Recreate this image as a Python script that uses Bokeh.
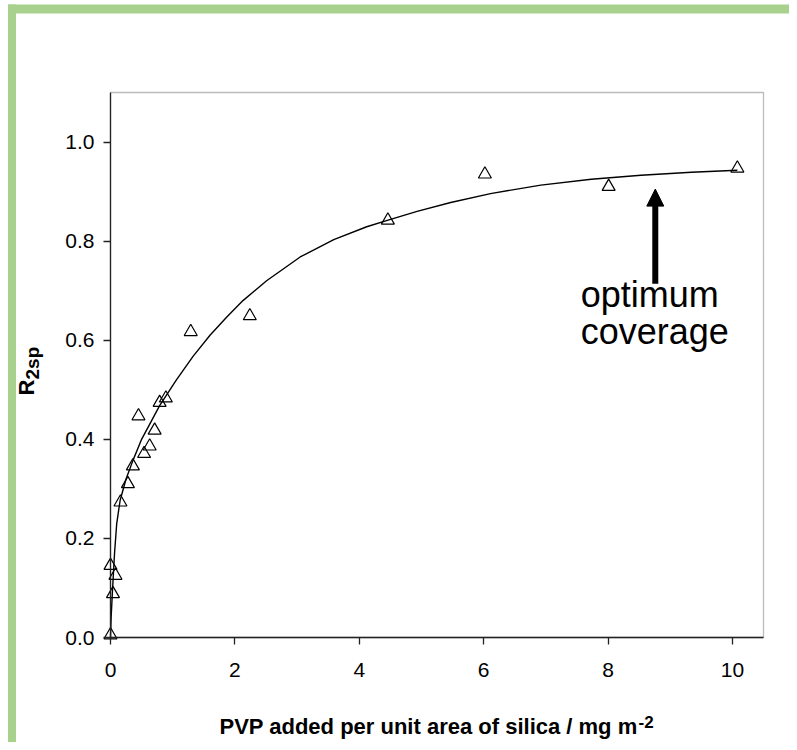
import math
from bokeh.plotting import figure
from bokeh.models import (Range1d, FixedTicker, PrintfTickFormatter, Label,
                          Arrow, NormalHead, BoxAnnotation, LinearAxis)
from bokeh.embed import file_html
from bokeh.resources import INLINE

# ---- data ----
pvp_x = [0.0, 0.04, 0.08, 0.0, 0.16, 0.28, 0.36, 0.45, 0.54, 0.63, 0.71, 0.79,
         0.89, 1.29, 2.24, 4.46, 6.02, 8.01, 10.08]
r2sp_y = [0.005, 0.088, 0.125, 0.145, 0.273, 0.31, 0.346, 0.447, 0.371, 0.386,
          0.418, 0.474, 0.483, 0.617, 0.649, 0.842, 0.935, 0.91, 0.947]

# fitted curve
fit_x = [0.0, 0.01, 0.03, 0.065, 0.10, 0.155, 0.25, 0.36, 0.50, 0.79, 1.06,
         1.33, 1.60, 1.87, 2.13, 2.51, 3.05, 3.59, 4.12, 4.45, 4.93, 5.47,
         6.11, 6.92, 7.73, 8.53, 9.34, 10.08]
fit_y = [0.0, 0.04, 0.09, 0.17, 0.23, 0.277, 0.32, 0.357, 0.400, 0.468, 0.520,
         0.568, 0.610, 0.647, 0.680, 0.720, 0.768, 0.803, 0.829, 0.842, 0.860,
         0.878, 0.896, 0.913, 0.925, 0.933, 0.939, 0.943]

x_ticks = [0, 2, 4, 6, 8, 10]
y_ticks = [0.0, 0.2, 0.4, 0.6, 0.8, 1.0]

# axis extents (data) and where the plot box sits on the canvas (pixels)
X0, X1 = 0.0, 10.5
Y0, Y1 = 0.0, 1.1
W, H = 789, 742
PL, PR, PT, PB = 110, 763, 92, 637


def px_to_x(px):
    return X0 + (px - PL) * (X1 - X0) / (PR - PL)


def py_to_y(py):
    return Y0 + (PB - py) * (Y1 - Y0) / (PB - PT)


FONT = "Liberation Sans"
INK = "#222222"

p = figure(width=W, height=H, output_backend="svg", toolbar_location=None,
           x_range=Range1d(px_to_x(0), px_to_x(W)),
           y_range=Range1d(py_to_y(H), py_to_y(0)),
           x_axis_location=None, y_axis_location=None,
           min_border=0)
p.background_fill_color = "white"
p.border_fill_color = "white"
p.outline_line_color = None
p.xgrid.visible = False
p.ygrid.visible = False

xaxis = LinearAxis(fixed_location=Y0, bounds=(X0, X1),
                   ticker=FixedTicker(ticks=x_ticks))
yaxis = LinearAxis(fixed_location=X0, bounds=(Y0, Y1),
                   ticker=FixedTicker(ticks=y_ticks),
                   formatter=PrintfTickFormatter(format="%.1f"))
for ax in (xaxis, yaxis):
    ax.axis_line_color = INK
    ax.axis_line_width = 1.3
    ax.major_tick_line_color = INK
    ax.major_tick_line_width = 1.3
    ax.major_tick_in = 0
    ax.major_tick_out = 7
    ax.minor_tick_line_color = None
    ax.major_label_text_font = FONT
    ax.major_label_text_font_size = "21px"
    ax.major_label_text_color = "black"
xaxis.major_label_standoff = 18
yaxis.major_label_standoff = 9
p.add_layout(xaxis, "below")
p.add_layout(yaxis, "left")

# green page frame
GREEN = "#A9D18E"
for (l, r, t, b) in [(7.5, 15.5, 4, H + 10), (7.5, W, 4, 13)]:
    p.add_layout(BoxAnnotation(left=px_to_x(l), right=px_to_x(r),
                               top=py_to_y(t), bottom=py_to_y(b),
                               fill_color=GREEN, fill_alpha=1, line_color=None,
                               level="underlay"))

# plot box
p.add_layout(BoxAnnotation(left=X0, right=X1, bottom=Y0, top=Y1,
                           fill_color=None, line_color=INK, line_width=1.3,
                           level="underlay"))

# fit line and data points
p.line(fit_x, fit_y, line_color="black", line_width=1.4)
p.scatter(pvp_x, r2sp_y, marker="triangle", size=13, fill_color=None,
          line_color="black", line_width=1.2)

# arrow and annotation
ARROW_X, ARROW_Y0, ARROW_Y1 = 8.76, 0.714, 0.905
p.add_layout(Arrow(end=NormalHead(size=17, fill_color="black", line_color="black"),
                   x_start=ARROW_X, y_start=ARROW_Y0, x_end=ARROW_X, y_end=ARROW_Y1,
                   line_width=6, line_color="black"))
p.add_layout(Label(x=7.56, y=0.650, text="optimum", text_font=FONT,
                   text_font_size="36px", text_color="black"))
p.add_layout(Label(x=7.56, y=0.577, text="coverage", text_font=FONT,
                   text_font_size="36px", text_color="black"))

# axis titles
p.add_layout(Label(x=px_to_x(219), y=py_to_y(738),
                   text="PVP added per unit area of silica / mg m",
                   text_font=FONT, text_font_size="22px",
                   text_font_style="bold", text_color="black"))
p.add_layout(Label(x=px_to_x(638), y=py_to_y(727), text="-2",
                   text_font=FONT, text_font_size="17px",
                   text_font_style="bold", text_color="black"))
p.add_layout(Label(x=px_to_x(38), y=py_to_y(395), text="R", angle=math.pi / 2,
                   text_font=FONT, text_font_size="22px",
                   text_font_style="bold", text_color="black"))
p.add_layout(Label(x=px_to_x(42.5), y=py_to_y(379), text="2sp", angle=math.pi / 2,
                   text_font=FONT, text_font_size="19px",
                   text_font_style="bold", text_color="black"))

open("out.html", "w").write(file_html(p, INLINE))
